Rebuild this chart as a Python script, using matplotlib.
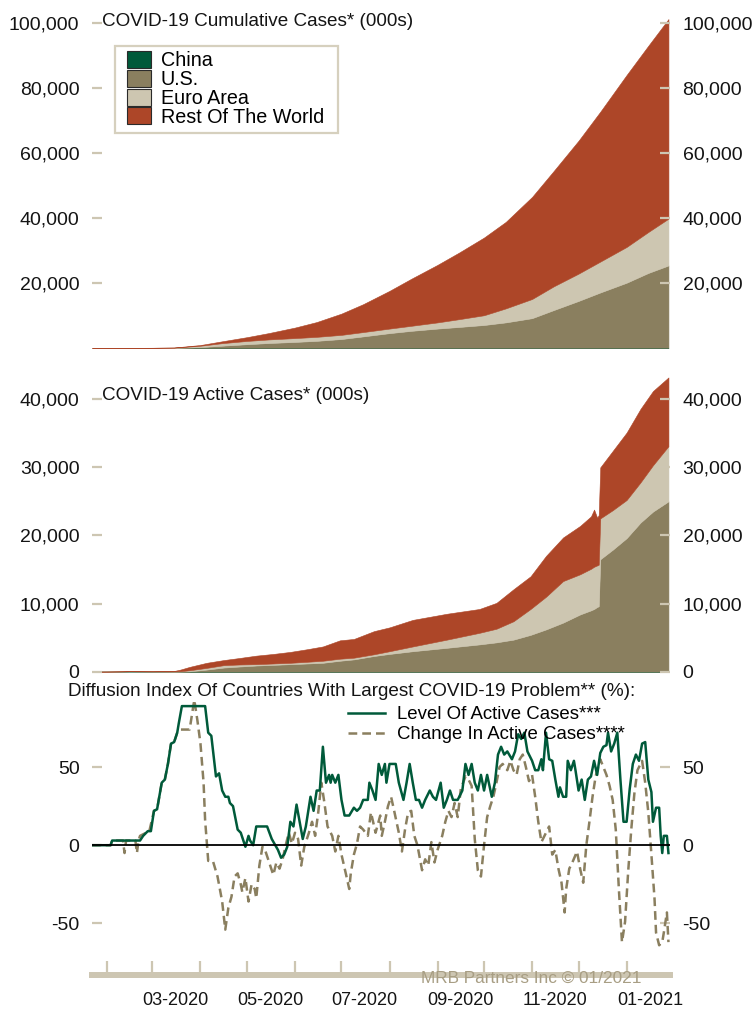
import pandas as pd
import matplotlib
matplotlib.use("Agg")
import matplotlib.pyplot as plt
import matplotlib.dates as mdates
from matplotlib.patches import Patch, Rectangle
from matplotlib.ticker import FuncFormatter, NullFormatter

plt.rcParams['font.family'] = ['Liberation Sans', 'DejaVu Sans']

GREEN = '#005a3a'
OLIVE = '#8a7f5f'
BEIGE = '#cdc6b1'
RED = '#ad4628'
TAN = '#cdc6b2'
INK = '#141414'

series_names = ['China', 'U.S.', 'Euro Area', 'Rest Of The World']

# cumulative cases (000s)
cum_dates = ['2020-01-22', '2020-02-01', '2020-02-15', '2020-03-01', '2020-03-15',
             '2020-04-01', '2020-04-15', '2020-05-01', '2020-05-15', '2020-06-01',
             '2020-06-15', '2020-07-01', '2020-07-15', '2020-08-01', '2020-08-15',
             '2020-09-01', '2020-09-15', '2020-10-01', '2020-10-15', '2020-11-01',
             '2020-11-15', '2020-12-01', '2020-12-15', '2021-01-01', '2021-01-15',
             '2021-01-28']
cum_china = [0.5, 12, 68, 80, 81, 82, 83, 84, 84, 84, 84, 85, 86, 88, 89, 90, 90,
             91, 91, 91, 92, 93, 94, 96, 98, 99]
cum_us = [0, 0, 0, 0.1, 3, 215, 640, 1100, 1460, 1800, 2130, 2690, 3500, 4500, 5200,
          5900, 6400, 7000, 7800, 9100, 11600, 14400, 17000, 20000, 23000, 25300]
cum_euro = [0, 0, 0, 2, 45, 420, 780, 1000, 1100, 1180, 1230, 1280, 1330, 1400, 1550,
            1900, 2400, 3000, 4300, 5900, 7300, 8400, 9500, 11000, 12600, 14400]
cum_rest = [0.1, 0.2, 1, 6, 41, 213, 577, 1166, 1956, 3236, 4556, 6545, 8584, 11612,
            14461, 17710, 20510, 23909, 26609, 31409, 35508, 40907, 46106, 52904,
            57302, 61401]

# active cases (000s)
act_dates = ['2020-01-22', '2020-02-01', '2020-02-15', '2020-02-22', '2020-03-01',
             '2020-03-15', '2020-03-19', '2020-03-25', '2020-04-05', '2020-04-16',
             '2020-04-26', '2020-05-07', '2020-05-18', '2020-05-29', '2020-06-09',
             '2020-06-19', '2020-06-30', '2020-07-09', '2020-07-22', '2020-08-01',
             '2020-08-16', '2020-09-07', '2020-09-28', '2020-10-09', '2020-10-20',
             '2020-10-31', '2020-11-10', '2020-11-21', '2020-12-02', '2020-12-09',
             '2020-12-11', '2020-12-13', '2020-12-14', '2020-12-15', '2020-12-23',
             '2021-01-01', '2021-01-10', '2021-01-18', '2021-01-28']
act_china = [0.5, 11, 57, 50, 40, 12, 9, 4, 2.5, 1.5, 0.8, 0.2, 0.1, 0.1, 0.1, 0.3,
             0.4, 0.4, 0.3, 0.6, 0.8, 0.3, 0.2, 0.2, 0.3, 0.4, 0.4, 0.4, 0.3, 0.3,
             0.3, 0.3, 0.3, 0.3, 0.4, 0.5, 0.7, 1.0, 1.5]
act_us = [0, 0, 0, 0, 0, 3, 10, 50, 300, 600, 750, 900, 1000, 1100, 1200, 1300,
          1600, 1800, 2300, 2600, 3000, 3500, 4000, 4300, 4700, 5400, 6200, 7200,
          8400, 9000, 9200, 9500, 9600, 16500, 17900, 19600, 21900, 23500, 25000]
act_euro = [0, 0, 3, 3, 2, 27, 50, 150, 250, 350, 300, 200, 200, 200, 250, 300,
            300, 250, 250, 400, 700, 1200, 1700, 2000, 2700, 3800, 4800, 6100,
            5900, 6100, 6200, 6100, 6100, 6000, 5800, 5600, 5900, 6800, 8100]
act_rest = [0, 0.2, 1, 2, 8, 58, 231, 496, 747, 749, 949, 1250, 1400, 1600, 1850,
            2100, 2700, 2750, 3400, 3500, 3900, 3800, 3500, 3800, 4700, 4800, 6000,
            6400, 7100, 7700, 8400, 7000, 7300, 7500, 8700, 9900, 10800, 10900, 10100]

# diffusion index (%), x given as days since 2020-01-22
start = pd.Timestamp('2020-01-22')
level_days = [0, 12, 13, 29, 31, 33, 36, 38, 40, 42,
              45, 47, 49, 51, 53, 55, 56, 58, 73, 75,
              77, 80, 82, 84, 86, 88, 89, 91, 94, 96,
              99, 101, 102, 104, 106, 113, 116, 120, 122, 124,
              126, 128, 130, 132, 134, 136, 138, 141, 143, 145,
              147, 149, 151, 153, 154, 155, 157, 159, 161, 163,
              166, 169, 171, 173, 175, 178, 179, 181, 183, 185,
              187, 189, 190, 192, 196, 198, 201, 203, 205, 207,
              209, 211, 213, 215, 218, 220, 222, 225, 227, 229,
              231, 233, 236, 239, 241, 243, 245, 247, 249, 251,
              253, 255, 258, 260, 262, 264, 266, 268, 271, 273,
              275, 277, 279, 281, 284, 286, 288, 290, 291, 293,
              295, 297, 299, 301, 302, 304, 306, 307, 309, 311,
              312, 314, 316, 318, 320, 322, 324, 326, 328, 330,
              332, 333, 335, 337, 339, 341, 343, 345, 347, 349,
              351, 353, 355, 357, 359, 361, 362, 364, 366, 367,
              368, 369, 371, 372]
level_vals = [0, 0, 3, 3, 3, 6, 9, 9, 22, 23,
              40, 42, 52, 65, 66, 72, 78, 89, 89, 72,
              70, 44, 46, 35, 31, 31, 27, 25, 10, 8,
              -1, 6, 3, 0, 12, 12, 4, -3, -8, -6,
              -1, 15, 12, 26, 15, 4, 12, 31, 22, 35,
              35, 63, 40, 45, 40, 45, 40, 45, 29, 19,
              19, 24, 22, 24, 29, 29, 40, 35, 29, 52,
              45, 52, 40, 52, 52, 40, 29, 40, 52, 40,
              29, 29, 24, 29, 35, 31, 29, 40, 24, 29,
              35, 29, 29, 35, 52, 45, 52, 40, 35, 45,
              35, 45, 31, 40, 58, 63, 58, 60, 55, 60,
              71, 68, 72, 60, 54, 48, 48, 55, 48, 72,
              55, 54, 42, 31, 37, 31, 31, 54, 48, 54,
              48, 35, 42, 29, 42, 44, 54, 45, 59, 63,
              64, 72, 60, 65, 72, 42, 15, 15, 36, 52,
              58, 54, 65, 66, 42, 34, 15, 24, 24, 6,
              -5, 6, 6, -5]
change_days = [0, 12, 13, 20, 21, 22, 28, 29, 30, 31,
               35, 37, 40, 42, 45, 47, 49, 51, 53, 55,
               57, 63, 66, 68, 70, 72, 73, 75, 78, 81,
               84, 86, 88, 90, 92, 94, 96, 97, 99, 101,
               103, 105, 106, 108, 110, 112, 115, 117, 119, 121,
               123, 125, 127, 129, 131, 133, 135, 137, 140, 142,
               144, 146, 148, 150, 152, 155, 157, 159, 161, 164,
               166, 167, 169, 171, 173, 175, 178, 180, 183, 186,
               187, 189, 191, 193, 195, 198, 200, 202, 204, 206,
               208, 210, 213, 215, 217, 219, 221, 223, 226, 228,
               230, 232, 234, 236, 238, 241, 243, 245, 247, 249,
               251, 253, 255, 257, 259, 261, 263, 265, 268, 270,
               272, 274, 276, 278, 280, 282, 284, 286, 288, 290,
               292, 295, 297, 299, 301, 303, 305, 306, 308, 310,
               313, 315, 317, 319, 321, 323, 325, 328, 330, 332,
               334, 336, 338, 340, 342, 344, 346, 348, 350, 352,
               355, 357, 359, 361, 363, 364, 366, 368, 369, 371,
               372]
change_vals = [0, 0, 3, 3, -5, 3, 3, -5, 3, 6,
               8, 9, 22, 23, 40, 42, 52, 65, 66, 72,
               74, 74, 93, 80, 65, 40, 16, -10, -10, -20,
               -36, -54, -40, -33, -20, -18, -25, -30, -21, -36,
               -25, -28, -34, -13, -1, -4, -13, -19, -11, -15,
               -9, 0, 8, 1, 8, 4, -13, -1, 8, 15,
               6, 21, 40, 27, 12, 6, -4, 6, -6, -19,
               -28, -18, -6, 1, 12, 10, 6, 21, 8, 19,
               6, 15, 25, 31, 22, 8, -4, 10, 21, 22,
               6, 0, -16, -9, -13, 2, -11, -3, 6, 15,
               22, 18, 27, 18, 36, 44, 42, 38, 4, -16,
               -20, 0, 18, 25, 31, 40, 50, 52, 48, 54,
               48, 45, 55, 58, 50, 41, 45, 31, 15, 2,
               6, 12, -6, -3, -15, -24, -43, -28, -15, -11,
               -4, -15, -24, 0, 15, 31, 44, 55, 50, 45,
               38, 29, 10, -28, -62, -49, -17, 10, 33, 48,
               54, 40, 21, -6, -34, -56, -64, -62, -56, -43,
               -62]

colors = [GREEN, OLIVE, BEIGE, RED]
x_lo = pd.Timestamp('2020-01-22')
x_hi = pd.Timestamp('2021-01-29')

fig = plt.figure(figsize=(7.56, 10.10), dpi=100)
L, W = 92 / 756, 578 / 756
ax1 = fig.add_axes([L, 0.6554, W, 0.3267])
ax2 = fig.add_axes([L, 0.3350, W, 0.2938])
ax3 = fig.add_axes([L, 0.0347, W, 0.2832])

comma = FuncFormatter(lambda v, p: f'{v:,.0f}')


def style_y(ax, ticks):
    ax.set_yticks(ticks)
    ax.yaxis.set_major_formatter(comma)
    ax.tick_params(axis='y', direction='in', length=7.5, width=1.6, color=TAN,
                   labelsize=14, labelcolor=INK, left=True, right=True,
                   labelleft=True, labelright=True, pad=9)
    for s in ax.spines.values():
        s.set_visible(False)
    ax.set_xlim(x_lo, x_hi)


# top: cumulative
polys = ax1.stackplot(pd.to_datetime(cum_dates), cum_china, cum_us, cum_euro, cum_rest,
                      colors=colors)
for p, c in zip(polys, colors):
    p.set_edgecolor(c)
    p.set_linewidth(0.4)
ax1.set_ylim(0, 101500)
style_y(ax1, [20000, 40000, 60000, 80000, 100000])
ax1.tick_params(axis='x', bottom=False, labelbottom=False)
handles = [Patch(facecolor=c, edgecolor='#2a2a2a', linewidth=0.8) for c in colors]
ax1.legend(handles, series_names, loc='upper left',
           bbox_to_anchor=(127 / 756, 1 - 51 / 1010), bbox_transform=fig.transFigure,
           fontsize=14.2, handlelength=1.22, handleheight=0.96, handletextpad=0.5,
           labelspacing=-0.03, borderpad=0, borderaxespad=0, frameon=False)
# legend frame
fig.patches.append(Rectangle((115 / 756, 1 - 133 / 1010), 223 / 756, 87 / 1010,
                             transform=fig.transFigure, facecolor='none',
                             edgecolor='#d6d0be', linewidth=1.6, zorder=5))

# middle: active
polys = ax2.stackplot(pd.to_datetime(act_dates), act_china, act_us, act_euro, act_rest,
                      colors=colors)
for p, c in zip(polys, colors):
    p.set_edgecolor(c)
    p.set_linewidth(0.4)
ax2.set_ylim(0, 43570)
style_y(ax2, [0, 10000, 20000, 30000, 40000])
ax2.tick_params(axis='x', bottom=False, labelbottom=False)

# bottom: diffusion index
lv_x = start + pd.to_timedelta(level_days, unit='D')
ch_x = start + pd.to_timedelta(change_days, unit='D')
l1, = ax3.plot(lv_x, level_vals, color=GREEN, lw=1.8, zorder=2.2)
l2, = ax3.plot(ch_x, change_vals, color=OLIVE, lw=1.8, ls=(0, (3.5, 2)), zorder=2)
ax3.axhline(0, color='black', lw=1.3, zorder=3)
ax3.set_ylim(-83, 100)
style_y(ax3, [-50, 0, 50])
ax3.spines['bottom'].set_visible(True)
ax3.spines['bottom'].set_color(TAN)
ax3.spines['bottom'].set_linewidth(4.3)
ax3.xaxis.set_major_locator(mdates.MonthLocator())
ax3.xaxis.set_major_formatter(NullFormatter())
ax3.xaxis.set_minor_locator(mdates.MonthLocator(bymonth=[1, 3, 5, 7, 9, 11], bymonthday=16))
ax3.xaxis.set_minor_formatter(mdates.DateFormatter('%m-%Y'))
ax3.tick_params(axis='x', which='major', direction='in', length=10, width=1.6, color=TAN)
ax3.tick_params(axis='x', which='minor', length=0, labelsize=13, labelcolor=INK, pad=12)
ax3.legend([l1, l2], ['Level Of Active Cases***', 'Change In Active Cases****'],
           loc='upper left', bbox_to_anchor=(348 / 756, 1 - 706 / 1010),
           bbox_transform=fig.transFigure, frameon=False, fontsize=13.4,
           handlelength=2.0, handletextpad=0.65, borderpad=0, borderaxespad=0,
           labelspacing=0.17)

fig.text(102 / 756, 1 - 22 / 1010, 'COVID-19 Cumulative Cases* (000s)',
         fontsize=13.6, color=INK, va='center', ha='left')
fig.text(102 / 756, 1 - 395 / 1010, 'COVID-19 Active Cases* (000s)',
         fontsize=13.6, color=INK, va='center', ha='left')
fig.text(68 / 756, 1 - 691 / 1010,
         'Diffusion Index Of Countries With Largest COVID-19 Problem** (%):',
         fontsize=13.6, color=INK, va='center', ha='left')
fig.text(531 / 756, 1 - 978 / 1010, 'MRB Partners Inc \u00a9 01/2021',
         fontsize=12.4, color='#a89e84', va='center', ha='center')

fig.savefig('out.png', dpi=100)
